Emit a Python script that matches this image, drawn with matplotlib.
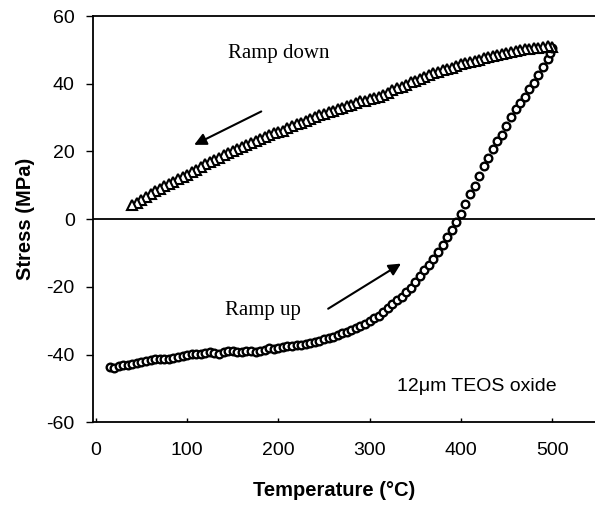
import matplotlib.pyplot as plt

plt.rcParams['axes.unicode_minus'] = False

# ramp up (circles) -----------------------------------------------
up_temp = [15, 20, 25, 30, 35, 40, 45, 50, 55, 60, 65, 70, 75, 80, 85, 90, 95,
           100, 105, 110, 115, 120, 125, 130, 135, 140, 145, 150, 155, 160, 165,
           170, 175, 180, 185, 190, 195, 200, 205, 210, 215, 220, 225, 230, 235,
           240, 245, 250, 255, 260, 265, 270, 275, 280, 285, 290, 295, 300, 305,
           310, 315, 320, 325, 330, 335, 340, 345, 350, 355, 360, 365, 370, 375,
           380, 385, 390, 395, 400, 405, 410, 415, 420, 425, 430, 435, 440, 445,
           450, 455, 460, 465, 470, 475, 480, 485, 490, 495, 498, 500]
up_stress = [-43.7, -43.9, -43.3, -43.1, -43.2, -42.9, -42.4, -42.2, -41.8, -41.6,
             -41.3, -41.4, -41.2, -41.3, -40.9, -40.6, -40.4, -40.0, -39.8, -39.9,
             -39.9, -39.5, -39.4, -39.5, -39.8, -39.4, -39.1, -39.0, -39.3, -39.4,
             -39.0, -38.9, -39.2, -39.1, -38.6, -38.2, -38.5, -38.0, -37.7, -37.5,
             -37.4, -37.3, -37.1, -36.8, -36.5, -36.2, -35.9, -35.5, -35.1, -34.7,
             -34.2, -33.7, -33.2, -32.7, -32.1, -31.5, -30.9, -30.1, -29.2, -28.5,
             -27.4, -26.3, -25.2, -24.0, -22.9, -21.5, -20.2, -18.6, -16.8, -14.9,
             -13.4, -11.7, -9.6, -7.6, -5.4, -3.1, -0.9, 1.6, 4.4, 7.4, 9.9, 12.7,
             15.8, 18.2, 20.7, 23.2, 25.0, 27.4, 30.2, 32.6, 34.3, 36.2, 38.4,
             40.3, 42.6, 45.0, 47.2, 49.0, 50.5]

# ramp down (triangles) -------------------------------------------
down_temp = [500, 495, 490, 485, 480, 475, 470, 465, 460, 455, 450, 445, 440,
             435, 430, 425, 420, 415, 410, 405, 400, 395, 390, 385, 380, 375,
             370, 365, 360, 355, 350, 345, 340, 335, 330, 325, 320, 315, 310,
             305, 300, 295, 290, 285, 280, 275, 270, 265, 260, 255, 250, 245,
             240, 235, 230, 225, 220, 215, 210, 205, 200, 195, 190, 185, 180,
             175, 170, 165, 160, 155, 150, 145, 140, 135, 130, 125, 120, 115,
             110, 105, 100, 95, 90, 85, 80, 75, 70, 65, 60, 55, 50, 45, 40]
down_stress = [51.0, 51.2, 50.8, 50.6, 50.5, 50.4, 50.2, 50.0, 49.7, 49.4, 49.2,
               48.9, 48.6, 48.3, 47.9, 47.6, 47.1, 46.8, 46.5, 46.3, 45.9, 45.3,
               44.8, 44.4, 44.0, 43.6, 43.2, 42.6, 42.0, 41.4, 40.9, 40.4, 39.8,
               39.2, 38.8, 38.1, 37.3, 36.7, 36.2, 35.8, 35.4, 35.0, 34.8, 34.4,
               33.8, 33.4, 33.0, 32.6, 32.1, 31.7, 31.2, 30.7, 30.1, 29.6, 29.1,
               28.5, 28.0, 27.4, 26.9, 26.2, 25.9, 25.4, 24.9, 24.3, 23.7, 23.1,
               22.6, 22.0, 21.3, 20.7, 20.2, 19.5, 18.9, 18.2, 17.5, 16.9, 16.2,
               15.4, 14.6, 13.9, 13.2, 12.5, 11.8, 11.1, 10.3, 9.7, 9.0, 8.4,
               7.5, 6.6, 5.8, 4.9, 4.1]

x_ticks = [0, 100, 200, 300, 400, 500]
y_ticks = [-60, -40, -20, 0, 20, 40, 60]

sans = 'Liberation Sans'
serif = 'Liberation Serif'

fig = plt.figure(figsize=(5.95, 5.05), dpi=100)
ax = fig.add_axes([0.156, 0.164, 0.844, 0.804])

ax.plot(up_temp, up_stress, 'o', ms=5.5, mfc='white', mec='black', mew=1.7)
ax.plot(down_temp, down_stress, '^', ms=6.5, mfc='white', mec='black', mew=1.5)

ax.axhline(0, color='black', lw=1.3)

ax.set_xlim(-3.3, 547)
ax.set_ylim(-60, 60)
ax.set_xticks(x_ticks)
ax.set_yticks(y_ticks)
ax.spines['right'].set_visible(False)
for s in ['left', 'top', 'bottom']:
    ax.spines[s].set_linewidth(1.3)
ax.tick_params(axis='y', direction='out', length=5, width=1, labelsize=14, pad=8)
ax.tick_params(axis='x', direction='in', length=3, width=1, labelsize=14, pad=14)
for lab in ax.get_xticklabels() + ax.get_yticklabels():
    lab.set_fontfamily(sans)

ax.set_xlabel('Temperature (\u00b0C)', fontfamily=sans, fontweight='bold', fontsize=14.5, labelpad=16)
ax.xaxis.label.set_x(0.48)
ax.set_ylabel('Stress (MPa)', fontfamily=sans, fontweight='bold', fontsize=14.5, labelpad=8)

ax.text(145, 49, 'Ramp down', fontfamily=serif, fontsize=15, va='center')
ax.text(142, -27, 'Ramp up', fontfamily=serif, fontsize=15, va='center')
ax.text(330, -49.4, '12\u03bcm TEOS oxide', fontfamily=sans, fontsize=14, va='center')

ax.annotate('', xy=(105, 21.6), xytext=(184, 32.2),
            arrowprops=dict(arrowstyle='-|>', color='black', lw=1.5, mutation_scale=18))
ax.annotate('', xy=(337, -12.7), xytext=(252, -26.9),
            arrowprops=dict(arrowstyle='-|>', color='black', lw=1.5, mutation_scale=18))

fig.savefig('out.png', dpi=100)
